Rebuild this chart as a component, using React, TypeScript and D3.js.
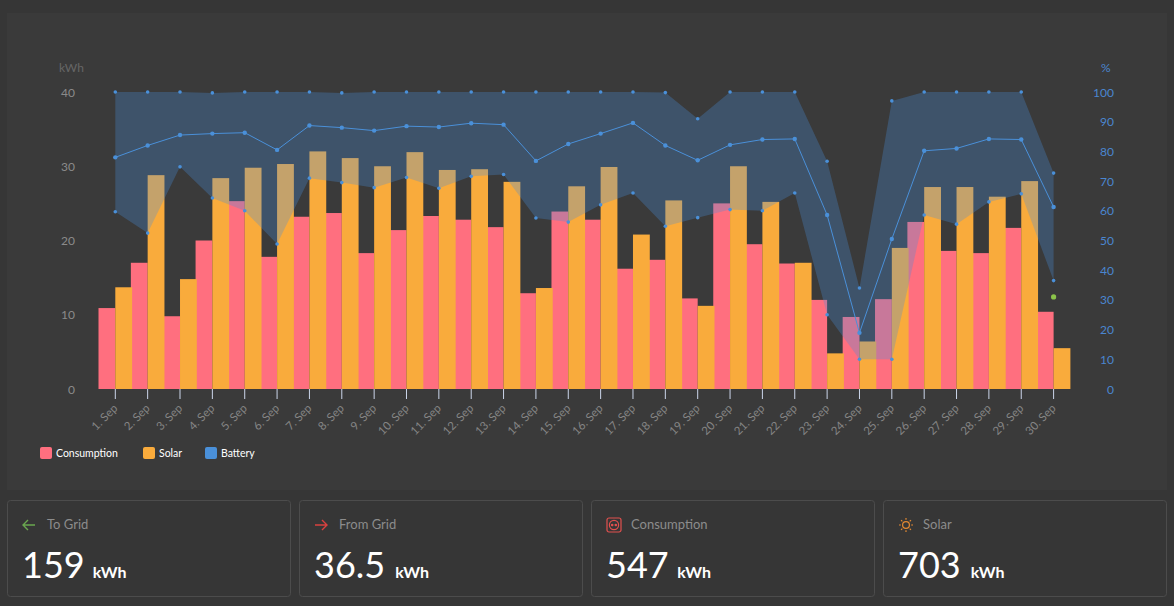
import React from "react";
import * as d3 from "d3";

const days = d3.range(1, 31).map((d) => `${d}. Sep`);
const consumption = [10.9,17,9.8,20,25.3,17.8,23.2,23.7,18.3,21.4,23.3,22.8,21.8,12.9,23.9,22.8,16.2,17.4,12.2,25,19.5,16.9,12,9.7,12.1,22.5,18.6,18.3,21.7,10.4];
const solar = [13.7,28.8,14.8,28.4,29.8,30.3,32,31.1,30,31.9,29.5,29.6,27.9,13.6,27.3,29.9,20.8,25.4,11.2,30,25.2,17,4.8,6.4,19,27.2,27.2,25.9,28,5.5];
const batteryMax = [100,100,100,99.7,100,100,100,99.7,100,100,100,100,100,100,100,100,100,99.8,91,100,100,100,76.7,34,97,100,100,100,100,72.7];
const batteryAvg = [78,82,85.5,86,86.3,80.5,88.7,88,87,88.5,88.2,89.5,89,76.8,82.5,86,89.6,82,77,82.2,84,84.2,58.6,18.9,50.5,80.2,81,84.2,84,61.3];
const batteryMin = [59.7,52.5,74.8,64.3,60,48.8,71,69.5,67.8,71.2,67.6,71.6,72.2,57.6,56.2,62,66,54.8,57.7,60.4,60,66,25,10,10,58.6,55.5,63,65.7,36.5];
const gridPoint = { day: 29, pct: 31 };
const kwhTicks = [0, 10, 20, 30, 40];
const pctTicks = [0, 10, 20, 30, 40, 50, 60, 70, 80, 90, 100];
const legend = [
  { name: "Consumption", color: "#ff6f7f", x: 40 },
  { name: "Solar", color: "#f9ab3c", x: 143 },
  { name: "Battery", color: "#4a90d9", x: 205 },
];
const cards = [
  { label: "To Grid", value: "159", x: 7, icon: "left", gap: 8 },
  { label: "From Grid", value: "36.5", x: 299, icon: "right", gap: 10 },
  { label: "Consumption", value: "547", x: 591, icon: "plug", gap: 8.5 },
  { label: "Solar", value: "703", x: 883, icon: "sun", gap: 10 },
];

const FONT = "Lato, 'Open Sans', sans-serif";
const BAR_W = 16.8;

function Icon({ kind, x, y }: { kind: string; x: number; y: number }) {
  if (kind === "left" || kind === "right") {
    const color = kind === "left" ? "#6aa84f" : "#d9413f";
    const d = kind === "left" ? "M0 0H12M5 -5L0 0L5 5" : "M0 0H12M7 -5L12 0L7 5";
    return <path transform={`translate(${x},${y})`} d={d} fill="none" stroke={color} strokeWidth={1.4} />;
  }
  if (kind === "plug") {
    return (
      <g transform={`translate(${x},${y})`} fill="none" stroke="#e2504e" strokeWidth={1.2}>
        <rect x={0} y={-7} width={14} height={14} rx={2} />
        <circle cx={7} cy={0} r={4.6} />
        <circle cx={5.2} cy={0} r={0.7} fill="#e2504e" />
        <circle cx={8.8} cy={0} r={0.7} fill="#e2504e" />
      </g>
    );
  }
  const rays = d3.range(8).map((i) => (i * Math.PI) / 4);
  return (
    <g transform={`translate(${x + 7},${y})`} stroke="#e58a32" fill="none" strokeWidth={1.2}>
      <circle r={3.4} />
      {rays.map((a) => (
        <line key={a} x1={5.2 * Math.cos(a)} y1={5.2 * Math.sin(a)} x2={7 * Math.cos(a)} y2={7 * Math.sin(a)} />
      ))}
    </g>
  );
}

export default function App() {
  const x = d3.scaleLinear().domain([0, 29]).range([115.3, 1053.6]);
  const yK = d3.scaleLinear().domain([0, 40]).range([389, 92]);
  const yP = d3.scaleLinear().domain([0, 100]).range([389, 92]);
  const area = d3.area<number>().x((_, i) => x(i)).y0((_, i) => yP(batteryMin[i])).y1((_, i) => yP(batteryMax[i]));
  const avgLine = d3.line<number>().x((_, i) => x(i)).y((d) => yP(d));

  return (
    <svg width={1174} height={606} style={{ position: "fixed", left: 0, top: 0, display: "block", fontFamily: FONT }}>
      <rect width={1174} height={606} fill="#363636" />
      <rect x={7} y={13} width={1160} height={477} fill="#3a3a3a" />

      {kwhTicks.map((t) => (
        <text key={t} x={75} y={yK(t) + 4.5} textAnchor="end" fontSize={12} fill="#8a8a8a">{t}</text>
      ))}
      <text x={59} y={72} fontSize={12} fill="#666">kWh</text>
      {pctTicks.map((t) => (
        <text key={t} x={1114} y={yP(t) + 4.5} textAnchor="end" fontSize={12} fill="#4a86d0">{t}</text>
      ))}
      <text x={1101} y={72} fontSize={12} fill="#4a86d0">%</text>

      {consumption.map((v, i) => (
        <rect key={i} x={x(i) - BAR_W} y={yK(v)} width={BAR_W} height={yK(0) - yK(v)} fill="#ff6f7f" />
      ))}
      {solar.map((v, i) => (
        <rect key={i} x={x(i)} y={yK(v)} width={BAR_W} height={yK(0) - yK(v)} fill="#f9ab3c" />
      ))}

      <path d={area(batteryAvg) || ""} fill="rgba(74,144,217,0.3)" />
      <path d={avgLine(batteryAvg) || ""} fill="none" stroke="#4a90d9" strokeWidth={1} />
      {batteryMax.map((v, i) => <circle key={i} cx={x(i)} cy={yP(v)} r={1.8} fill="#4a90d9" />)}
      {batteryMin.map((v, i) => <circle key={i} cx={x(i)} cy={yP(v)} r={1.8} fill="#4a90d9" />)}
      {batteryAvg.map((v, i) => <circle key={i} cx={x(i)} cy={yP(v)} r={2.2} fill="#4a90d9" />)}
      <circle cx={x(gridPoint.day)} cy={yP(gridPoint.pct)} r={2.6} fill="#8bc34a" />

      {days.map((d, i) => (
        <g key={d} transform={`translate(${x(i)},389)`}>
          <line y1={0} y2={10} stroke="#ccd6eb" />
          <text transform="translate(3,20) rotate(-45)" textAnchor="end" fontSize={11.5} fill="#858585">{d}</text>
        </g>
      ))}

      {legend.map((l) => (
        <g key={l.name}>
          <rect x={l.x} y={447} width={12} height={12} rx={2} fill={l.color} />
          <text x={l.x + 16} y={456.5} fontSize={10.5} fill="#fff">{l.name}</text>
        </g>
      ))}

      {cards.map((c) => (
        <g key={c.label}>
          <rect x={c.x + 0.5} y={500.5} width={283} height={96} rx={3} fill="#363636" stroke="#4c4c4c" />
          <Icon kind={c.icon} x={c.x + 16} y={525} />
          <text x={c.x + 40} y={529} fontSize={13} fill="#8c8c8c">{c.label}</text>
          <text x={c.x + 15} y={578} fontSize={36} fill="#fff">
            {c.value}
            <tspan dx={c.gap} fontSize={16} fontWeight={700}>kWh</tspan>
          </text>
        </g>
      ))}
    </svg>
  );
}
